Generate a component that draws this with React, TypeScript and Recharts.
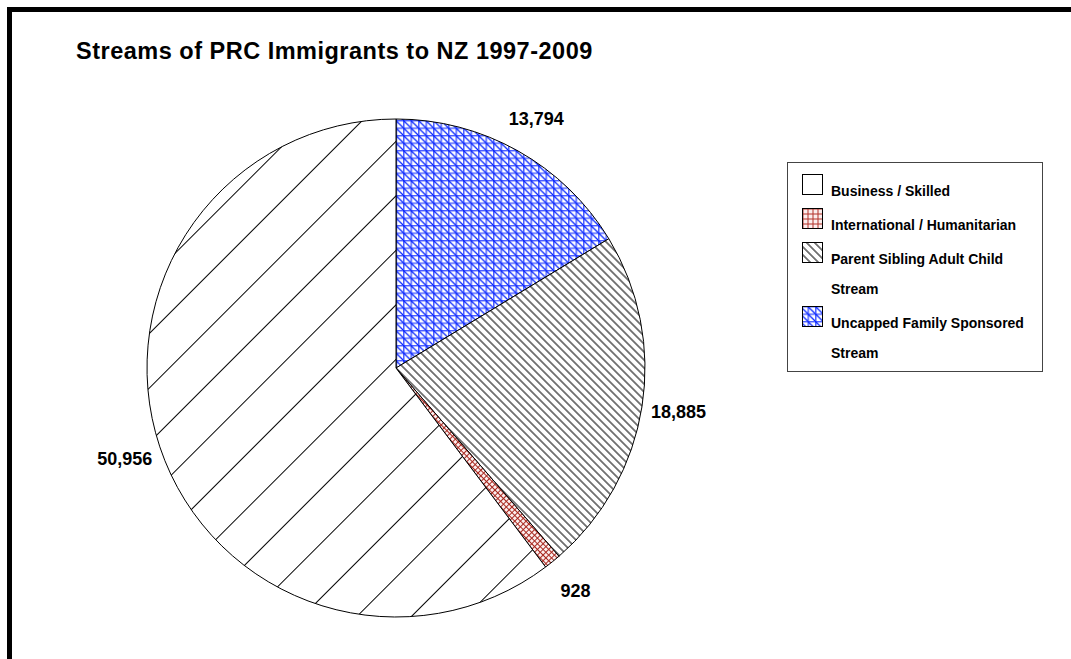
import React from 'react';
import { PieChart, Pie, Cell, Legend } from 'recharts';

// immigrant streams, drawn clockwise from 12 o'clock
const streams = [
  'Uncapped Family Sponsored Stream',
  'Parent Sibling Adult Child Stream',
  'International / Humanitarian',
  'Business / Skilled',
];
const counts = [13794, 18885, 928, 50956];
const sliceFills = ['url(#uncapped)', 'url(#parentHatch)', 'url(#intlDiag)', 'url(#bizHatch)'];
const legendFills = ['url(#uncapped)', 'url(#parentHatch)', 'url(#intlGrid)', '#ffffff'];

const data = streams.map((name, i) => ({ name, value: counts[i] }));

const RADIAN = Math.PI / 180;
const font = '"Liberation Sans", Arial, sans-serif';

const renderLabel = (props: any) => {
  const { cx, cy, midAngle, outerRadius, value } = props;
  const r = outerRadius + 37;
  const x = cx + r * Math.cos(-midAngle * RADIAN);
  const y = cy + r * Math.sin(-midAngle * RADIAN);
  return (
    <text
      x={x}
      y={y}
      textAnchor="middle"
      dominantBaseline="central"
      fill="#000"
      style={{ fontFamily: font, fontSize: 18, fontWeight: 700 }}
    >
      {value.toLocaleString('en-US')}
    </text>
  );
};

const renderLegend = (props: any) => {
  // legend lists the streams bottom-up relative to the pie order
  const items = [...(props.payload || [])].sort(
    (a: any, b: any) => streams.indexOf(b.value) - streams.indexOf(a.value)
  );
  return (
    <div
      style={{
        width: 254,
        height: 197,
        border: '1px solid #444',
        background: '#fff',
        paddingTop: 11,
        boxSizing: 'content-box',
        fontFamily: font,
        fontSize: 14,
        fontWeight: 700,
        color: '#000',
      }}
    >
      {items.map((entry: any) => {
        const idx = streams.indexOf(entry.value);
        const words = entry.value.endsWith(' Stream')
          ? [entry.value.slice(0, -7), 'Stream']
          : [entry.value];
        return (
          <div key={entry.value} style={{ display: 'flex', marginBottom: 2 }}>
            <svg width={21} height={21} style={{ marginLeft: 14, flex: 'none' }}>
              <rect x={0.5} y={0.5} width={20} height={20} fill={legendFills[idx]} stroke="#000" strokeWidth={1} />
            </svg>
            <div style={{ marginLeft: 8, marginTop: 2, lineHeight: '30px' }}>
              {words.map((w) => (
                <div key={w}>{w}</div>
              ))}
            </div>
          </div>
        );
      })}
    </div>
  );
};

export default function App() {
  return (
    <div
      style={{
        position: 'absolute',
        left: 0,
        top: 0,
        width: 1071,
        height: 659,
        overflow: 'hidden',
        background: '#fff',
      }}
    >
      <div
        style={{
          position: 'absolute',
          left: 7,
          top: 7,
          width: 1064,
          height: 652,
          borderTop: '5px solid #000',
          borderLeft: '5px solid #000',
          boxSizing: 'border-box',
        }}
      />
      <div
        style={{
          position: 'absolute',
          left: 76,
          top: 39,
          fontFamily: font,
          fontSize: 23.5,
          fontWeight: 700,
          letterSpacing: 0.5,
          lineHeight: '24px',
          color: '#000',
          whiteSpace: 'nowrap',
        }}
      >
        Streams of PRC Immigrants to NZ 1997-2009
      </div>
      <div style={{ position: 'absolute', left: 0, top: 0 }}>
        <PieChart width={1071} height={659} margin={{ top: 0, right: 0, bottom: 0, left: 0 }}>
          <defs>
            <pattern id="bizHatch" patternUnits="userSpaceOnUse" width={38.54} height={38.54} patternTransform="rotate(45)">
              <rect width={38.54} height={38.54} fill="#fff" />
              <line x1={33.1} y1={0} x2={33.1} y2={38.54} stroke="#000" strokeWidth={1} />
            </pattern>
            <pattern id="parentHatch" patternUnits="userSpaceOnUse" width={5.66} height={5.66} patternTransform="rotate(-45)">
              <rect width={5.66} height={5.66} fill="#fff" />
              <line x1={2.8} y1={0} x2={2.8} y2={5.66} stroke="#000" strokeWidth={1.05} />
            </pattern>
            <pattern id="uncapped" patternUnits="userSpaceOnUse" x={395.5} y={0} width={7.5} height={7.5}>
              <rect width={7.5} height={7.5} fill="#fff" />
              <path d="M0 0.7 H7.5 M0.7 0 V7.5" stroke="#4a5dff" strokeWidth={1.6} />
              <path d="M0 0 L7.5 7.5" stroke="#0020ff" strokeWidth={1.2} />
            </pattern>
            <pattern id="intlDiag" patternUnits="userSpaceOnUse" width={4} height={4} patternTransform="rotate(45)">
              <rect width={4} height={4} fill="#fbeeee" />
              <path d="M0 0.5 H4 M0.5 0 V4" stroke="#a8281f" strokeWidth={1} />
            </pattern>
            <pattern id="intlGrid" patternUnits="userSpaceOnUse" width={5} height={5} x={0.5} y={0.5}>
              <rect width={5} height={5} fill="#fbeeee" />
              <path d="M0 0.5 H5 M0.5 0 V5" stroke="#b3322a" strokeWidth={1} />
            </pattern>
          </defs>
          <Pie
            data={data}
            dataKey="value"
            nameKey="name"
            cx={396}
            cy={368}
            outerRadius={249}
            startAngle={90}
            endAngle={-270}
            stroke="#000"
            strokeWidth={1}
            label={renderLabel}
            labelLine={false}
            isAnimationActive={false}
          >
            {data.map((d, i) => (
              <Cell key={d.name} fill={sliceFills[i]} />
            ))}
          </Pie>
          <Legend
            layout="vertical"
            align="right"
            verticalAlign="top"
            content={renderLegend}
            wrapperStyle={{ position: 'absolute', left: 787, top: 162, width: 256, height: 209 }}
          />
        </PieChart>
      </div>
    </div>
  );
}
